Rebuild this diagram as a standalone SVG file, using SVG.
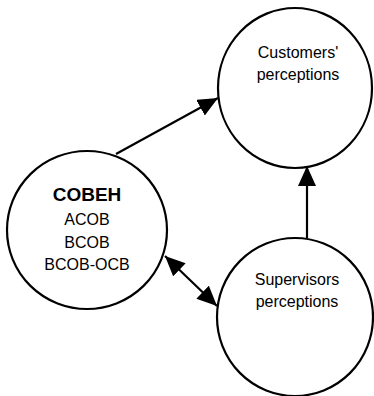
<svg xmlns="http://www.w3.org/2000/svg" width="374" height="396" viewBox="0 0 374 396">
<defs>
<style>
.node{fill:#fff;stroke:#000;stroke-width:2.2}
.lbl{font-family:"Liberation Sans",Arial,sans-serif;font-size:16px;fill:#000;text-anchor:middle}
.bold{font-weight:bold;font-size:19px}
.edge{stroke:#000;stroke-width:2.2;fill:none}
</style>
<marker id="ah" markerUnits="userSpaceOnUse" markerWidth="22" markerHeight="18" viewBox="0 0 22 18" refX="20" refY="9" orient="auto-start-reverse">
<path d="M0,0 L20,9 L0,18 Z" fill="#000"/>
</marker>
</defs>
<rect width="374" height="396" fill="#fff"/>
<g id="connectors">
<line class="edge" x1="116" y1="154" x2="218" y2="98" marker-end="url(#ah)"/>
<line class="edge" x1="307" y1="238" x2="307" y2="166" marker-end="url(#ah)"/>
<line class="edge" x1="165" y1="256" x2="217" y2="306" marker-start="url(#ah)" marker-end="url(#ah)"/>
</g>
<g id="customers">
<ellipse class="node" cx="295" cy="88" rx="77" ry="80"/>
<text class="lbl" x="298" y="58">Customers'</text>
<text class="lbl" x="298" y="80">perceptions</text>
</g>
<g id="cobeh">
<ellipse class="node" cx="87" cy="230" rx="80" ry="79"/>
<text class="lbl bold" x="87" y="201">COBEH</text>
<text class="lbl" x="87" y="225">ACOB</text>
<text class="lbl" x="87" y="248">BCOB</text>
<text class="lbl" x="87" y="270">BCOB-OCB</text>
</g>
<g id="supervisors">
<ellipse class="node" cx="295" cy="317" rx="78" ry="79"/>
<text class="lbl" x="297" y="285">Supervisors</text>
<text class="lbl" x="297" y="307">perceptions</text>
</g>
</svg>
